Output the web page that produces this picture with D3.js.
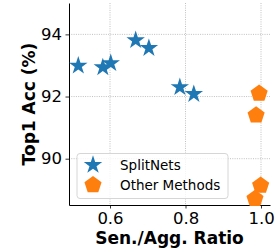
<!DOCTYPE html>
<html><head><meta charset="utf-8">
<script src="https://cdn.jsdelivr.net/npm/d3@7"></script>
<style>html,body{margin:0;padding:0;background:#fff;}svg{display:block;}</style>
</head><body>
<script>
const splitX = [0.516, 0.581, 0.602, 0.668, 0.703, 0.785, 0.822];
const splitY = [92.99, 92.94, 93.07, 93.81, 93.56, 92.30, 92.08];
const otherX = [0.995, 0.987, 0.999, 0.984];
const otherY = [92.10, 91.40, 89.14, 88.71];
const xTicks = [0.6, 0.8, 1.0];
const yTicks = [90, 92, 94];
const legendLabels = ["SplitNets", "Other Methods"];
const colors = ["#1f77b4", "#ff7f0e"];

const W = 277, H = 249;
const m = {l: 69, r: 270, t: 3, b: 205};
const svg = d3.select("body").append("svg").attr("width", W).attr("height", H);
const x = d3.scaleLinear().domain([0.4914, 1.0238]).range([m.l, m.r]);
const y = d3.scaleLinear().domain([88.51, 95.01]).range([m.b, m.t]);

const font = "DejaVu Sans";
// grid
const g = svg.append("g");
g.selectAll("line.gx").data(xTicks).enter().append("line")
  .attr("x1", d => x(d)).attr("x2", d => x(d)).attr("y1", m.t).attr("y2", m.b)
  .attr("stroke", "#b0b0b0").attr("stroke-width", 0.8).attr("stroke-dasharray", "1,1.3");
g.selectAll("line.gy").data(yTicks).enter().append("line")
  .attr("y1", d => y(d)).attr("y2", d => y(d)).attr("x1", m.l).attr("x2", m.r)
  .attr("stroke", "#b0b0b0").attr("stroke-width", 0.8).attr("stroke-dasharray", "1,1.3");

// axes
const xAxis = svg.append("g").attr("transform", `translate(0,${m.b})`)
  .call(d3.axisBottom(x).tickValues(xTicks).tickFormat(d3.format(".1f")).tickSize(3.5).tickPadding(3.5).tickSizeOuter(0));
const yAxis = svg.append("g").attr("transform", `translate(${m.l},0)`)
  .call(d3.axisLeft(y).tickValues(yTicks).tickFormat(d3.format("d")).tickSize(3.5).tickPadding(3.5).tickSizeOuter(0));
[xAxis, yAxis].forEach(a => {
  a.select(".domain").attr("stroke", "#000").attr("stroke-width", 1);
  a.selectAll(".tick line").attr("stroke", "#000").attr("stroke-width", 0.8);
  a.selectAll(".tick text").attr("font-family", font).attr("font-size", 16.5).attr("fill", "#000");
});

// markers
const star = d3.symbol().type(d3.symbolStar).size(105);
function pentagon(r) {
  const pts = d3.range(5).map(i => {
    const a = -Math.PI / 2 + i * 2 * Math.PI / 5;
    return [r * Math.cos(a), r * Math.sin(a)];
  });
  return "M" + pts.map(p => p.join(",")).join("L") + "Z";
}
const pent = pentagon(9);

svg.append("g").selectAll("path").data(splitX).enter().append("path")
  .attr("d", star()).attr("fill", colors[0])
  .attr("transform", (d, i) => `translate(${x(d)},${y(splitY[i])})`);
svg.append("g").selectAll("path").data(otherX).enter().append("path")
  .attr("d", pent).attr("fill", colors[1])
  .attr("transform", (d, i) => `translate(${x(d)},${y(otherY[i])})`);

// labels
svg.append("text").attr("x", (m.l + m.r) / 2).attr("y", 244).attr("text-anchor", "middle")
  .attr("font-family", font).attr("font-weight", "bold").attr("font-size", 17).text("Sen./Agg. Ratio");
svg.append("text").attr("transform", `translate(35,${(m.t + m.b) / 2}) rotate(-90)`).attr("text-anchor", "middle")
  .attr("font-family", font).attr("font-weight", "bold").attr("font-size", 17).text("Top1 Acc (%)");

// legend
const lg = svg.append("g");
lg.append("rect").attr("x", 77).attr("y", 153.5).attr("width", 151).attr("height", 45).attr("rx", 3)
  .attr("fill", "#fff").attr("fill-opacity", 0.8).attr("stroke", "#d6d6d6").attr("stroke-width", 1);
const ly = [165, 185];
legendLabels.forEach((t, i) => {
  lg.append("path").attr("d", i === 0 ? star() : pent).attr("fill", colors[i])
    .attr("transform", `translate(93,${ly[i]})`);
  lg.append("text").attr("x", 120).attr("y", ly[i]).attr("dy", "0.35em")
    .attr("font-family", font).attr("font-size", 13.5).attr("fill", "#000").text(t);
});
</script>
</body></html>
